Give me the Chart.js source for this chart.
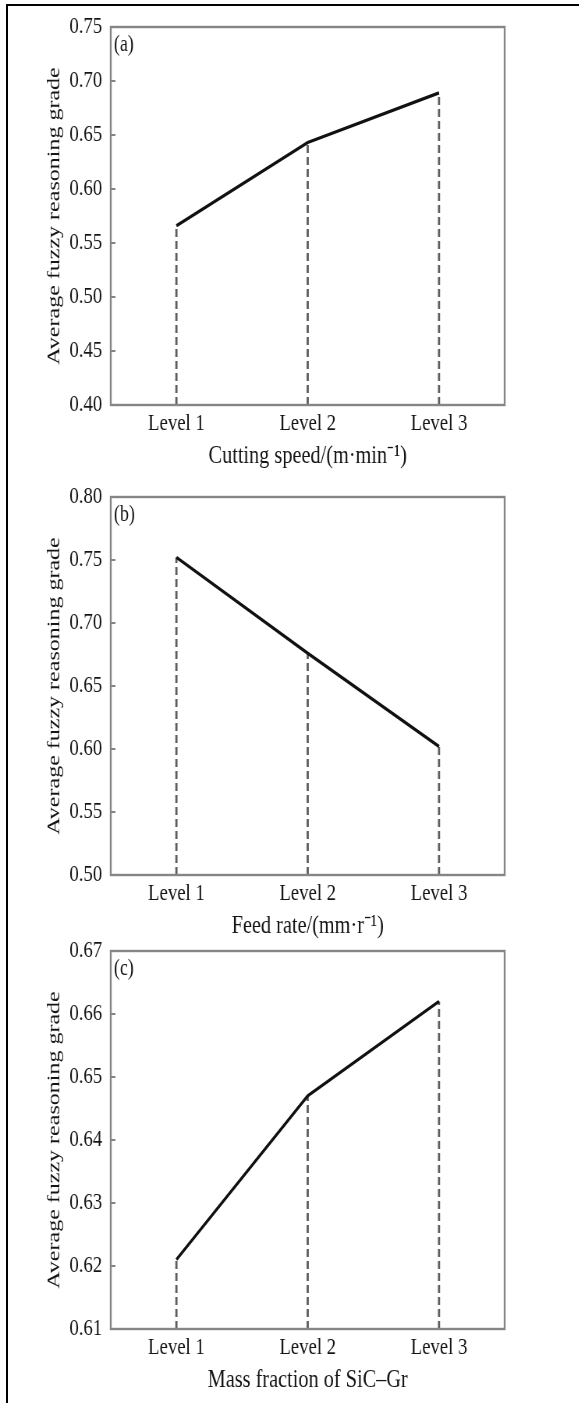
<!DOCTYPE html>
<html><head><meta charset="utf-8">
<script src="https://cdn.jsdelivr.net/npm/chart.js@4.4.1/dist/chart.umd.min.js"></script>
<style>
html,body{margin:0;padding:0;background:#fff;overflow:hidden;width:579px;height:1403px;}
#frameTop{position:absolute;left:6px;top:4px;width:573px;height:2px;background:#000;}
#frameLeft{position:absolute;left:6px;top:4px;width:2px;height:1399px;background:#000;}
.panel{position:absolute;left:0;width:742px;height:470px;transform:scaleX(0.78);transform-origin:0 0;}
canvas{display:block;}
</style></head><body>
<div id="frameTop"></div><div id="frameLeft"></div>
<div class="panel" style="top:0px"><canvas id="c0" width="742" height="470"></canvas></div>
<div class="panel" style="top:470px"><canvas id="c1" width="742" height="470"></canvas></div>
<div class="panel" style="top:924px"><canvas id="c2" width="742" height="470"></canvas></div>
<script>
const categories = ['Level 1', 'Level 2', 'Level 3'];
const speedGrade = [0.566, 0.643, 0.689];
const feedGrade = [0.752, 0.676, 0.602];
const sicGrade = [0.621, 0.647, 0.662];
const yTicksA = [0.40, 0.45, 0.50, 0.55, 0.60, 0.65, 0.70, 0.75];
const yTicksB = [0.50, 0.55, 0.60, 0.65, 0.70, 0.75, 0.80];
const yTicksC = [0.61, 0.62, 0.63, 0.64, 0.65, 0.66, 0.67];
const panelTags = ['(a)', '(b)', '(c)'];
const xTitles = ['Cutting speed/(m\u00b7min\u207b\u00b9)', 'Feed rate/(mm\u00b7r\u207b\u00b9)', 'Mass fraction of SiC\u2013Gr'];
const yTitle = 'Average fuzzy reasoning grade';

const FAMILY = "'Liberation Serif', 'Times New Roman', serif";
const TEXT = '#151515';

const framePlugin = {
  id: 'frame',
  afterDatasetsDraw(chart, args, opts) {
    const {ctx, chartArea: a} = chart;
    const y = chart.scales.y;
    ctx.save();
    ctx.strokeStyle = '#858585';
    ctx.lineWidth = 2.4;
    ctx.strokeRect(a.left, a.top, a.right - a.left, a.bottom - a.top);
    ctx.lineWidth = 2;
    y.ticks.forEach(t => {
      const py = y.getPixelForValue(t.value);
      ctx.beginPath(); ctx.moveTo(a.left, py); ctx.lineTo(a.left + 6, py); ctx.stroke();
    });
    ctx.fillStyle = TEXT;
    ctx.font = "23px " + FAMILY;
    ctx.textBaseline = 'top';
    ctx.textAlign = 'left';
    ctx.fillText(opts.tag, a.left + 4, a.top + 6);
    ctx.restore();
  }
};

function makeChart(id, values, yTicks, tag, xTitle) {
  const yMin = yTicks[0], yMax = yTicks[yTicks.length - 1];
  const drops = categories.map((c, i) => ({
    data: [{x: c, y: yMin}, {x: c, y: values[i]}],
    borderColor: '#5e5e5e', borderWidth: 2.8, borderDash: [8, 4],
    pointRadius: 0, fill: false, order: 1
  }));
  new Chart(document.getElementById(id), {
    type: 'line',
    data: {
      labels: categories,
      datasets: [{data: values, borderColor: '#111', borderWidth: 3.2, pointRadius: 0, tension: 0, fill: false, order: 0}, ...drops]
    },
    options: {
      responsive: false, animation: false, events: [],
      layout: {padding: {left: 55, right: 95, top: 27, bottom: 0}},
      plugins: {legend: {display: false}, tooltip: {enabled: false}, frame: {tag: tag}},
      scales: {
        x: {
          type: 'category', offset: true,
          grid: {display: false, drawTicks: false}, border: {display: false},
          ticks: {color: TEXT, font: {family: FAMILY, size: 24}, padding: 4, maxRotation: 0, autoSkip: false},
          title: {display: true, text: xTitle, color: TEXT, font: {family: FAMILY, size: 26}, padding: {top: 0, bottom: -2}},
          afterFit(s) { s.height = 65; }
        },
        y: {
          min: yMin, max: yMax,
          grid: {display: false, drawTicks: false}, border: {display: false},
          afterBuildTicks(s) { s.ticks = yTicks.map(v => ({value: v})); },
          ticks: {color: TEXT, font: {family: FAMILY, size: 24}, padding: 11, autoSkip: false, callback: v => Number(v).toFixed(2)},
          title: {display: true, text: yTitle, color: TEXT, font: {family: FAMILY, size: 24}, padding: {top: 0, bottom: 0}},
          afterFit(s) { s.width = 87; }
        }
      }
    },
    plugins: [framePlugin]
  });
}

makeChart('c0', speedGrade, yTicksA, panelTags[0], xTitles[0]);
makeChart('c1', feedGrade, yTicksB, panelTags[1], xTitles[1]);
makeChart('c2', sicGrade, yTicksC, panelTags[2], xTitles[2]);
</script>
</body></html>
